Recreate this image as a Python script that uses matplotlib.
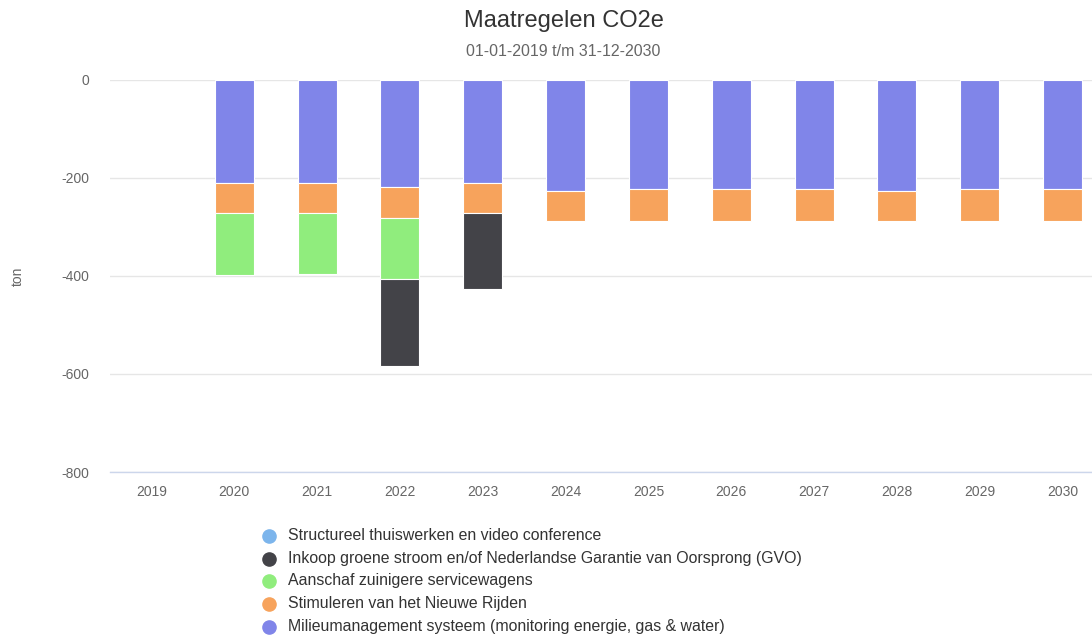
import matplotlib
matplotlib.use("Agg")
import matplotlib.pyplot as plt
from matplotlib.lines import Line2D
import numpy as np

plt.rcParams['font.family'] = ['Liberation Sans', 'DejaVu Sans']

years = ['2019', '2020', '2021', '2022', '2023', '2024', '2025', '2026', '2027', '2028', '2029', '2030']
milieu = [0, -210, -210, -218, -210, -227, -223, -223, -223, -227, -223, -223]
stimuleren = [0, -62, -62, -65, -62, -61, -65, -65, -65, -61, -65, -65]
aanschaf = [0, -127, -125, -124, 0, 0, 0, 0, 0, 0, 0, 0]
inkoop = [0, 0, 0, -176, -154, 0, 0, 0, 0, 0, 0, 0]
structureel = [0] * 12

series_names = [
    'Structureel thuiswerken en video conference',
    'Inkoop groene stroom en/of Nederlandse Garantie van Oorsprong (GVO)',
    'Aanschaf zuinigere servicewagens',
    'Stimuleren van het Nieuwe Rijden',
    'Milieumanagement systeem (monitoring energie, gas & water)',
]
colors = ['#7cb5ec', '#434348', '#90ed7d', '#f7a35c', '#8085e9']
yticks = [0, -200, -400, -600, -800]

W, H = 1092, 639
fig = plt.figure(figsize=(W / 100, H / 100), dpi=100)
top_px, bot_px, left_px, right_px = 79.7, 472, 110, 1104
ax = fig.add_axes([left_px / W, 1 - bot_px / H, (right_px - left_px) / W, (bot_px - top_px) / H])

x = np.arange(len(years))
stack_order = [(milieu, colors[4]), (stimuleren, colors[3]), (aanschaf, colors[2]),
               (inkoop, colors[1]), (structureel, colors[0])]
bottom = np.zeros(len(years))
for vals, c in stack_order:
    v = np.array(vals, dtype=float)
    mask = v != 0
    ax.bar(x[mask], v[mask], bottom=bottom[mask], width=0.47, color=c,
           edgecolor='white', linewidth=0.8, zorder=3)
    bottom += v

ax.set_xlim(-0.5, 11.5)
ax.set_ylim(-800, 0)
ax.set_yticks(yticks)
ax.set_yticklabels([str(t) for t in yticks])
ax.set_xticks(x)
ax.set_xticklabels(years)
ax.tick_params(axis='y', length=0, pad=15, labelsize=10, labelcolor='#666666')
ax.tick_params(axis='x', length=0, pad=9, labelsize=10, labelcolor='#666666')
ax.grid(axis='y', color='#e6e6e6', linewidth=1, zorder=0)
ax.set_axisbelow(True)
for s in ['top', 'right', 'left']:
    ax.spines[s].set_visible(False)
ax.spines['bottom'].set_color('#ccd6eb')
ax.spines['bottom'].set_linewidth(1)
ax.spines['bottom'].set_zorder(4)

fig.text(563.5 / W, 1 - 21 / H, 'Maatregelen CO2e', ha='center', va='center',
         fontsize=17, color='#333333')
fig.text(563.5 / W, 1 - 52 / H, '01-01-2019 t/m 31-12-2030', ha='center', va='center',
         fontsize=11.5, color='#666666')
fig.text(18 / W, 1 - 276 / H, 'ton', rotation=90, ha='center', va='center',
         fontsize=10, color='#666666')

rows = [536, 559, 581, 603.5, 626.5]
for name, c, ry in zip(series_names, colors, rows):
    fig.add_artist(Line2D([268.5 / W], [1 - ry / H], marker='o', markersize=9.5,
                          color=c, linestyle='none', transform=fig.transFigure))
    fig.text(288.3 / W, 1 - ry / H, name, ha='left', va='center', fontsize=11.4,
             color='#333333')

fig.savefig('out.png', dpi=100)
